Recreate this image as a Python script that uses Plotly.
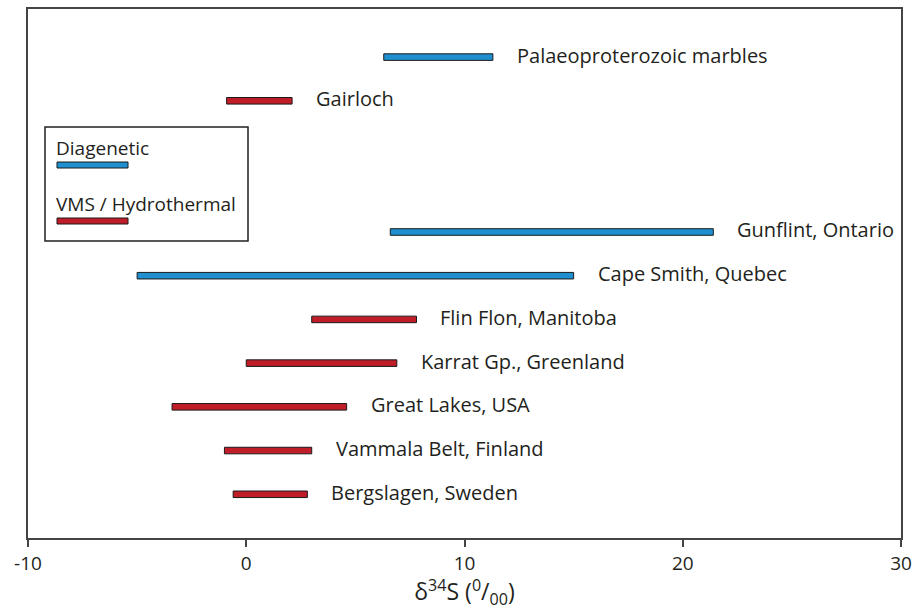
import plotly.graph_objects as go

# Sulfur isotope ranges by locality
localities = ["Palaeoproterozoic marbles", "Gairloch", "Gunflint, Ontario",
              "Cape Smith, Quebec", "Flin Flon, Manitoba", "Karrat Gp., Greenland",
              "Great Lakes, USA", "Vammala Belt, Finland", "Bergslagen, Sweden"]
d34s_min = [6.3, -0.9, 6.6, -5.0, 3.0, 0.0, -3.4, -1.0, -0.6]
d34s_max = [11.3, 2.1, 21.4, 15.0, 7.8, 6.9, 4.6, 3.0, 2.8]
origin = ["Diagenetic", "VMS / Hydrothermal", "Diagenetic", "Diagenetic",
          "VMS / Hydrothermal", "VMS / Hydrothermal", "VMS / Hydrothermal",
          "VMS / Hydrothermal", "VMS / Hydrothermal"]
row = [11, 10, 7, 6, 5, 4, 3, 2, 1]

x_ticks = [-10, 0, 10, 20, 30]

colors = {"Diagenetic": "#1f8fcf", "VMS / Hydrothermal": "#c01d28"}
font_family = "Open Sans, Noto Sans, sans-serif"
text_color = "#231f20"

# plot-area geometry in pixels (for the key box)
L, R, T, B = 28, 901, 9, 538
W, H = R - L, B - T

fig = go.Figure()

for kind in ["Diagenetic", "VMS / Hydrothermal"]:
    idx = [i for i, o in enumerate(origin) if o == kind]
    fig.add_trace(go.Bar(
        orientation="h",
        y=[row[i] for i in idx],
        base=[d34s_min[i] for i in idx],
        x=[d34s_max[i] - d34s_min[i] for i in idx],
        width=0.15,
        marker=dict(color=colors[kind], line=dict(color="#1a1a1a", width=1)),
        name=kind,
        showlegend=False,
        hoverinfo="skip",
    ))

annotations = []
for name, xe, r in zip(localities, d34s_max, row):
    annotations.append(dict(
        x=xe, y=r, xref="x", yref="y", text=name, showarrow=False,
        xanchor="left", yanchor="middle", xshift=22, yshift=2,
        font=dict(family=font_family, size=20, color=text_color),
    ))

# Key box with sample bars
shapes = [dict(type="rect", xref="paper", yref="paper",
               x0=(45 - L) / W, x1=(248 - L) / W,
               y0=(B - 241) / H, y1=(B - 127) / H,
               line=dict(color="#231f20", width=1.5), fillcolor="rgba(0,0,0,0)")]
key_rows = [("Diagenetic", 165, 148), ("VMS / Hydrothermal", 221, 204)]
for label, bar_py, text_py in key_rows:
    shapes.append(dict(type="rect", xref="paper", yref="paper",
                       x0=(57 - L) / W, x1=(128 - L) / W,
                       y0=(B - bar_py - 3) / H, y1=(B - bar_py + 3) / H,
                       line=dict(color="#1a1a1a", width=1),
                       fillcolor=colors[label]))
    annotations.append(dict(
        x=(54 - L) / W, y=(B - text_py) / H, xref="paper", yref="paper",
        text=label, showarrow=False, xanchor="left", yanchor="middle",
        font=dict(family=font_family, size=19, color=text_color),
    ))

fig.update_layout(
    width=914, height=610,
    margin=dict(l=L, r=914 - R, t=T, b=610 - B, autoexpand=False),
    paper_bgcolor="white", plot_bgcolor="white",
    barmode="overlay",
    font=dict(family=font_family, color=text_color),
    shapes=shapes,
    annotations=annotations,
    xaxis=dict(
        range=[-10, 30], tickvals=x_ticks, ticktext=[str(v) for v in x_ticks],
        ticks="outside", ticklen=7, tickwidth=1.5, tickcolor="#444",
        showline=True, linecolor="#444", linewidth=2, mirror=True,
        showgrid=False, zeroline=False, automargin=False,
        ticklabeloverflow="allow",
        tickfont=dict(family=font_family, size=19, color=text_color),
        title=dict(text="δ<sup>34</sup>S (<sup>0</sup>/<sub>00</sub>)",
                   font=dict(family=font_family, size=23, color=text_color),
                   standoff=6),
    ),
    yaxis=dict(
        range=[0, 12.1], showticklabels=False, ticks="",
        showline=True, linecolor="#444", linewidth=2, mirror=True,
        showgrid=False, zeroline=False, automargin=False,
    ),
)

fig.write_html("out.html")
